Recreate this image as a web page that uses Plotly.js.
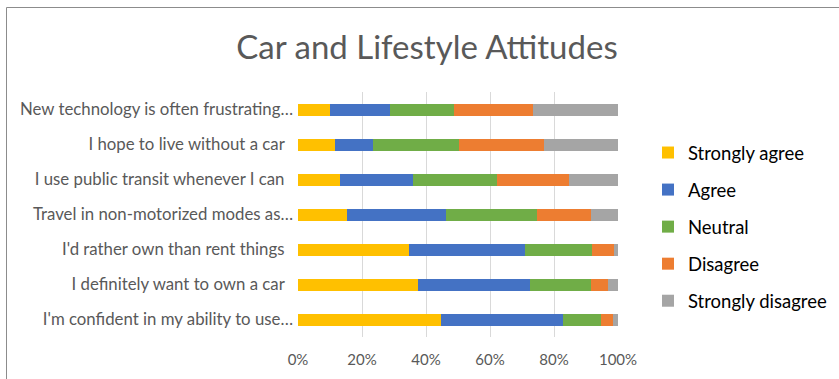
<!DOCTYPE html>
<html>
<head>
<meta charset="utf-8">
<script src="https://cdn.plot.ly/plotly-3.0.1.min.js"></script>
<style>html,body{margin:0;padding:0;background:#fff;}#chart{width:839px;height:379px;}</style>
</head>
<body>
<div id="chart"></div>
<script>
const categories = [
  "New technology is often frustrating…",
  "I hope to live without a car\u00A0\u00A0",
  "I use public transit whenever I can\u00A0\u00A0",
  "Travel in non-motorized modes as…",
  "I'd rather own than rent things\u00A0\u00A0",
  "I definitely want to own a car\u00A0\u00A0",
  "I'm confident in my ability to use…"
];
const seriesNames = ["Strongly agree", "Agree", "Neutral", "Disagree", "Strongly disagree"];
const stronglyAgree    = [10.1, 11.5, 13.1, 15.3, 34.7, 37.6, 44.6];
const agree            = [18.7, 12.0, 22.7, 30.8, 36.1, 34.8, 38.2];
const neutral          = [20.1, 26.7, 26.3, 28.5, 21.0, 19.3, 11.9];
const disagree         = [24.5, 26.8, 22.5, 16.9,  6.9,  5.2,  3.6];
const stronglyDisagree = [26.6, 23.0, 15.4,  8.5,  1.3,  3.1,  1.7];
const colors = ["#FFC000", "#4472C4", "#70AD47", "#ED7D31", "#A5A5A5"];
const xTickVals = [0, 20, 40, 60, 80, 100];
const xTickText = ["0%", "20%", "40%", "60%", "80%", "100%"];

const seriesValues = [stronglyAgree, agree, neutral, disagree, stronglyDisagree];
const font = "Lato, Calibri, 'Open Sans', sans-serif";

const traces = seriesValues.map((vals, i) => ({
  type: "bar",
  orientation: "h",
  name: seriesNames[i],
  legendgroup: "g" + i,
  y: categories,
  x: vals,
  marker: { color: colors[i] },
  hoverinfo: "x+name"
}));

const L = 298, R = 618, T = 92, B = 337;
const W = R - L, H = B - T;
const px2x = p => (p - L) / W;
const py2y = p => (B - p) / H;

const layout = {
  width: 839, height: 379,
  margin: { l: L, r: 839 - R, t: T, b: 379 - B, pad: 0, autoexpand: false },
  paper_bgcolor: "#ffffff",
  plot_bgcolor: "#ffffff",
  barmode: "stack",
  bargap: 0.657,
  font: { family: font, color: "#595959", size: 15 },
  title: {
    text: "Car and Lifestyle Attitudes",
    font: { family: font, size: 33, color: "#595959" },
    x: 427 / 839, xanchor: "center", xref: "container",
    y: 1 - 47 / 379, yanchor: "middle", yref: "container"
  },
  xaxis: {
    range: [0, 100],
    tickvals: xTickVals,
    ticktext: xTickText,
    showgrid: true,
    gridcolor: "#d9d9d9",
    gridwidth: 1,
    zeroline: false,
    showline: false,
    ticks: "",
    tickfont: { family: font, size: 15, color: "#595959" },
    ticklabelstandoff: 12,
    fixedrange: true
  },
  yaxis: {
    type: "category",
    autorange: "reversed",
    showgrid: false,
    zeroline: false,
    showline: false,
    ticks: "",
    tickfont: { family: font, size: 16.8, color: "#595959" },
    ticklabelstandoff: 4,
    fixedrange: true
  },
  legend: {
    x: px2x(648), xanchor: "left",
    y: py2y(227), yanchor: "middle",
    traceorder: "grouped",
    tracegroupgap: 10,
    itemwidth: 30,
    font: { family: font, size: 18.5, color: "#000000" },
    bgcolor: "rgba(0,0,0,0)"
  },
  shapes: [
    { type: "line", xref: "paper", yref: "paper", x0: px2x(6.5), x1: px2x(900), y0: py2y(7.5), y1: py2y(7.5), line: { color: "#8c8c8c", width: 1 } },
    { type: "line", xref: "paper", yref: "paper", x0: px2x(6.5), x1: px2x(6.5), y0: py2y(7.5), y1: py2y(500), line: { color: "#8c8c8c", width: 1 } }
  ],
  showlegend: true
};

Plotly.newPlot("chart", traces, layout, { displayModeBar: false, staticPlot: true });
</script>
</body>
</html>
